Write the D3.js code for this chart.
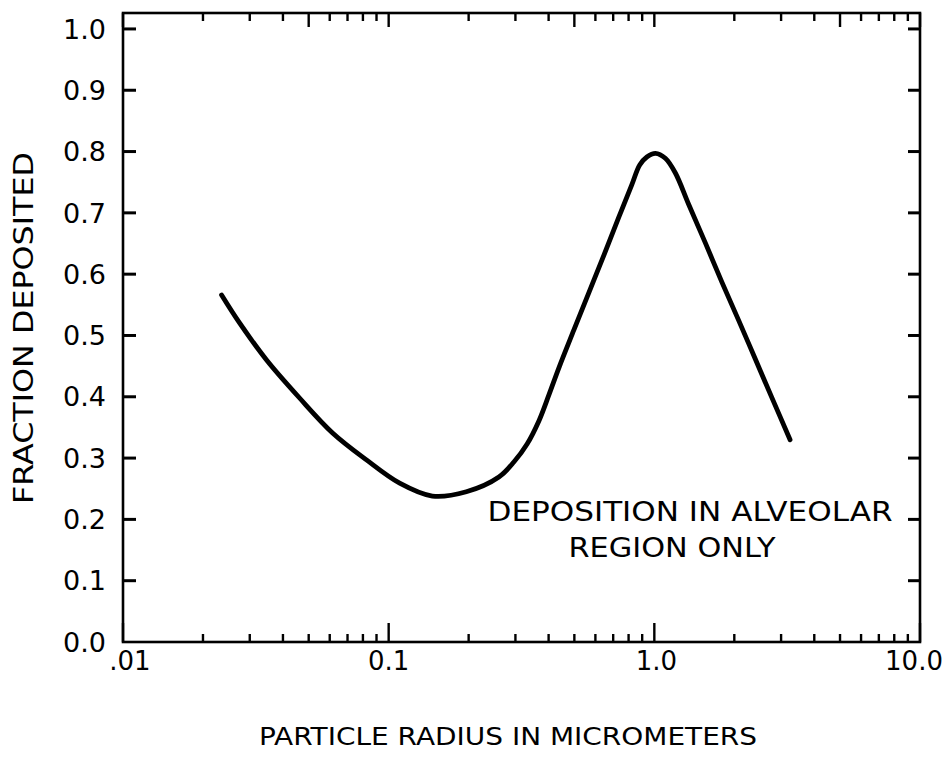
<!DOCTYPE html>
<html>
<head>
<meta charset="utf-8">
<script src="https://cdn.jsdelivr.net/npm/d3@7"></script>
<style>
  html, body { margin: 0; padding: 0; background: #fff; }
  svg { display: block; }
  text { font-family: "DejaVu Sans", "Liberation Sans", sans-serif; fill: #000; }
</style>
</head>
<body>
<svg id="chart" width="943" height="757"></svg>
<script>
// ---- data ----
const radius = [0.0235, 0.0275, 0.0347, 0.0462, 0.0615, 0.0825, 0.110, 0.146, 0.196, 0.260, 0.2965,
                0.332, 0.368, 0.401, 0.438, 0.498, 0.567, 0.646, 0.735, 0.823, 0.881, 0.937, 1.01, 1.10, 1.20,
                1.346, 1.556, 1.796, 2.075, 2.397, 2.767, 3.243];
const fraction = [0.566, 0.520, 0.460, 0.398, 0.341, 0.297, 0.259, 0.238, 0.245, 0.269, 0.294,
                  0.323, 0.361, 0.403, 0.448, 0.509, 0.570, 0.631, 0.693, 0.746, 0.778, 0.791, 0.797, 0.789, 0.765,
                  0.714, 0.651, 0.587, 0.525, 0.462, 0.399, 0.330];
const xTickValues = [0.01, 0.1, 1, 10];
const xTickLabels = [".01", "0.1", "1.0", "10.0"];
const yTickValues = [0, 0.1, 0.2, 0.3, 0.4, 0.5, 0.6, 0.7, 0.8, 0.9, 1.0];
const yTickLabels = ["0.0", "0.1", "0.2", "0.3", "0.4", "0.5", "0.6", "0.7", "0.8", "0.9", "1.0"];
const xTitle = "PARTICLE RADIUS IN MICROMETERS";
const yTitle = "FRACTION DEPOSITED";
const noteLines = ["DEPOSITION IN ALVEOLAR", "REGION ONLY"];

// ---- layout ----
const svg = d3.select("#chart");
const L = 123, R = 920, T = 13, B = 642;
const x = d3.scaleLog().domain([0.01, 10]).range([L, R]);
const y = d3.scaleLinear().domain([0, 1.026]).range([B, T]);

// minor log ticks
const minor = [];
[0.01, 0.1, 1].forEach(d => { for (let k = 2; k <= 9; k++) minor.push(d * k); });
const isFive = d => Math.abs(d / Math.pow(10, Math.floor(Math.log10(d) + 1e-9)) - 5) < 1e-6;

const g = svg.append("g");

// frame
g.append("rect").attr("x", L).attr("y", T).attr("width", R - L).attr("height", B - T)
  .attr("fill", "none").attr("stroke", "#000").attr("stroke-width", 2.6);

// bottom ticks (inward)
g.selectAll(".bmin").data(minor).join("line")
  .attr("x1", d => x(d)).attr("x2", d => x(d)).attr("y1", B).attr("y2", B - 8)
  .attr("stroke", "#000").attr("stroke-width", 2.4);
g.selectAll(".bmaj").data(xTickValues).join("line")
  .attr("x1", d => x(d)).attr("x2", d => x(d)).attr("y1", B).attr("y2", B - 19)
  .attr("stroke", "#000").attr("stroke-width", 2.4);
// top ticks (inward)
g.selectAll(".tmin").data(minor).join("line")
  .attr("x1", d => x(d)).attr("x2", d => x(d)).attr("y1", T).attr("y2", d => T + (isFive(d) ? 14 : 8))
  .attr("stroke", "#000").attr("stroke-width", 2.4);
g.selectAll(".tmaj").data(xTickValues).join("line")
  .attr("x1", d => x(d)).attr("x2", d => x(d)).attr("y1", T).attr("y2", T + 14)
  .attr("stroke", "#000").attr("stroke-width", 2.4);

// left / right ticks
g.selectAll(".lt").data(yTickValues.filter(v => v > 0)).join("line")
  .attr("x1", L).attr("x2", L + 13).attr("y1", d => y(d)).attr("y2", d => y(d))
  .attr("stroke", "#000").attr("stroke-width", 3);
g.selectAll(".rt").data(yTickValues.filter(v => v > 0)).join("line")
  .attr("x1", R).attr("x2", R - 12).attr("y1", d => y(d)).attr("y2", d => y(d))
  .attr("stroke", "#000").attr("stroke-width", 3);

// y tick labels
g.selectAll(".yl").data(yTickValues).join("text")
  .attr("x", 106).attr("y", d => y(d)).attr("dy", "0.36em")
  .attr("text-anchor", "end").attr("font-size", 27)
  .text((d, i) => yTickLabels[i]);

// x tick labels
g.selectAll(".xl").data(xTickValues).join("text")
  .attr("x", (d, i) => x(d) + [7, 0, 2, -6][i]).attr("y", 670)
  .attr("text-anchor", "middle").attr("font-size", 26)
  .text((d, i) => xTickLabels[i]);

// axis titles
svg.append("text").attr("x", 508).attr("y", 745).attr("text-anchor", "middle")
  .attr("font-size", 24).attr("textLength", 498).attr("lengthAdjust", "spacingAndGlyphs")
  .text(xTitle);
svg.append("text").attr("transform", "translate(33,328) rotate(-90)").attr("text-anchor", "middle")
  .attr("font-size", 26).attr("textLength", 352).attr("lengthAdjust", "spacingAndGlyphs")
  .text(yTitle);

// annotation
svg.append("text").attr("x", 690).attr("y", 521).attr("text-anchor", "middle")
  .attr("font-size", 26).attr("textLength", 405).attr("lengthAdjust", "spacingAndGlyphs")
  .text(noteLines[0]);
svg.append("text").attr("x", 672).attr("y", 557).attr("text-anchor", "middle")
  .attr("font-size", 26).attr("textLength", 207).attr("lengthAdjust", "spacingAndGlyphs")
  .text(noteLines[1]);

// curve
const pts = radius.map((r, i) => [r, fraction[i]]);
const line = d3.line().x(d => x(d[0])).y(d => y(d[1])).curve(d3.curveCatmullRom.alpha(0.5));
g.append("path").attr("d", line(pts)).attr("fill", "none").attr("stroke", "#000")
  .attr("stroke-width", 4.8).attr("stroke-linecap", "round").attr("stroke-linejoin", "round");
</script>
</body>
</html>
